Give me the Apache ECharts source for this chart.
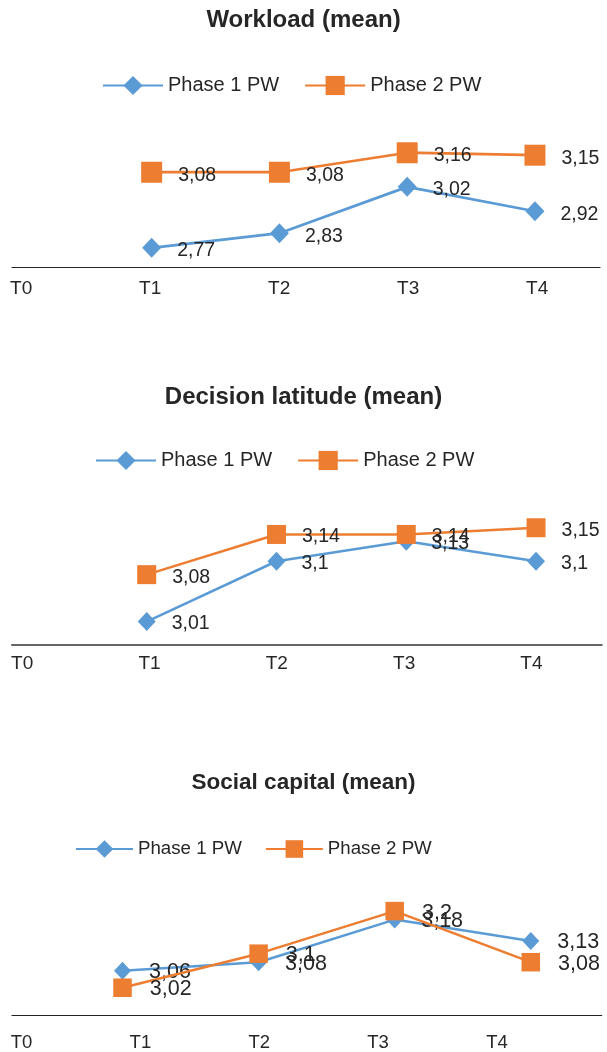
<!DOCTYPE html>
<html>
<head>
<meta charset="utf-8">
<script src="https://cdn.jsdelivr.net/npm/echarts@6/dist/echarts.min.js"></script>
<style>
  html, body { margin: 0; padding: 0; background: #fff; }
  #chart { width: 607px; height: 1052px; }
</style>
</head>
<body>
<div id="chart"></div>
<script>
// Time points shown on every x axis (T0 has no measurement)
const categories = ['T0', 'T1', 'T2', 'T3', 'T4'];
const seriesNames = ['Phase 1 PW', 'Phase 2 PW'];
const panelTitles = ['Workload (mean)', 'Decision latitude (mean)', 'Social capital (mean)'];

// Mean scores per time point
const workloadPhase1 = [null, 2.77, 2.83, 3.02, 2.92];
const workloadPhase2 = [null, 3.08, 3.08, 3.16, 3.15];
const latitudePhase1 = [null, 3.01, 3.10, 3.13, 3.10];
const latitudePhase2 = [null, 3.08, 3.14, 3.14, 3.15];
const socialPhase1 = [null, 3.06, 3.08, 3.18, 3.13];
const socialPhase2 = [null, 3.02, 3.10, 3.20, 3.08];

const panelData = [
  [workloadPhase1, workloadPhase2],
  [latitudePhase1, latitudePhase2],
  [socialPhase1, socialPhase2]
];

// Layout and style of each of the three stacked panels
const panelStyle = [
  {
    titleTop: 8, titleSize: 24,
    legend: { left: 102, top: 75.5, w: 60, h: 24, font: 20, gap: 25 },
    grid: { top: 143, height: 124.3, right: 7 },
    yRange: [2.69, 3.2],
    dataX: [-0.093, 4.509], tickX: [-0.071, 4.487],
    axisColor: '#262626', axisWidth: 1.2, tickMargin: 12, tickFont: 19,
    valueFont: 19.5, valueDist: 16, valueOffset: [0, 3],
    diamond: [19, 20], square: 21, lineWidth: 2.75
  },
  {
    titleTop: 385.5, titleSize: 24,
    legend: { left: 95, top: 450.5, w: 60, h: 24, font: 20, gap: 25 },
    grid: { top: 511, height: 134, right: 5.3 },
    yRange: [2.975, 3.175],
    dataX: [-0.038, 4.506], tickX: [-0.080, 4.552],
    axisColor: '#666666', axisWidth: 2.2, tickMargin: 9, tickFont: 19,
    valueFont: 19.5, valueDist: 16, valueOffset: [0, 2.5],
    diamond: [18, 19], square: 19, lineWidth: 2.5
  },
  {
    titleTop: 771.5, titleSize: 22.5,
    legend: { left: 75, top: 839.5, w: 57, h: 22, font: 18.7, gap: 23 },
    grid: { top: 889.8, height: 127.9, right: 5.3 },
    yRange: [2.956, 3.25],
    dataX: [0.188, 4.521], tickX: [-0.080, 4.881],
    axisColor: '#222222', axisWidth: 1.2, tickMargin: 18, tickFont: 18.5,
    valueFont: 21.5, valueDist: 18, valueOffset: [0, 1.5],
    diamond: [17, 18], square: 18.5, lineWidth: 2.5
  }
];

const colors = ['#5B9BD5', '#ED7D31'];
const textColor = '#262626';
const fontFamily = '"Liberation Sans", Arial, Helvetica, sans-serif';

const fmt = v => String(v).replace('.', ',');

const option = {
  animation: false,
  backgroundColor: '#ffffff',
  textStyle: { fontFamily: fontFamily, color: textColor },
  title: [], legend: [], grid: [], xAxis: [], yAxis: [], series: []
};

panelStyle.forEach((p, k) => {
  option.title.push({
    text: panelTitles[k],
    left: 'center',
    top: p.titleTop,
    padding: 0,
    textStyle: {
      fontFamily: fontFamily, fontWeight: 'bold',
      fontSize: p.titleSize, lineHeight: p.titleSize, color: textColor
    }
  });

  option.legend.push({
    left: p.legend.left,
    top: p.legend.top,
    padding: 0,
    itemWidth: p.legend.w,
    itemHeight: p.legend.h,
    itemGap: p.legend.gap,
    data: seriesNames.map(n => n + '\u200b'.repeat(k)),
    formatter: n => n.replace(/\u200b/g, ''),
    textStyle: { fontFamily: fontFamily, fontSize: p.legend.font, color: textColor, padding: [0, 0, 0, 0] }
  });

  option.grid.push({ left: 12, right: p.grid.right, top: p.grid.top, height: p.grid.height, containLabel: false });

  // Hidden axis that positions the markers
  option.xAxis.push({
    type: 'value', gridIndex: k, position: 'top',
    min: p.dataX[0], max: p.dataX[1], show: false
  });
  // Visible axis carrying the time point labels
  option.xAxis.push({
    type: 'value', gridIndex: k, position: 'bottom',
    min: p.tickX[0], max: p.tickX[1],
    axisLine: { show: true, lineStyle: { color: p.axisColor, width: p.axisWidth } },
    axisTick: { show: false },
    splitLine: { show: false },
    axisLabel: {
      show: true,
      customValues: categories.map((c, i) => i),
      formatter: v => categories[Math.round(v)] || '',
      margin: p.tickMargin,
      fontSize: p.tickFont, fontFamily: fontFamily, color: textColor
    }
  });
  option.yAxis.push({
    type: 'value', gridIndex: k, min: p.yRange[0], max: p.yRange[1], show: false
  });

  panelData[k].forEach((values, s) => {
    option.series.push({
      type: 'line',
      name: seriesNames[s] + '\u200b'.repeat(k),
      xAxisIndex: 2 * k,
      yAxisIndex: k,
      data: values.map((v, i) => [i, v]),
      symbol: s === 0 ? 'diamond' : 'rect',
      symbolSize: s === 0 ? p.diamond : p.square,
      showSymbol: true,
      color: colors[s],
      lineStyle: { color: colors[s], width: p.lineWidth },
      itemStyle: { color: colors[s] },
      z: 2 + s,
      label: {
        show: true,
        position: 'right',
        distance: p.valueDist,
        offset: p.valueOffset,
        formatter: d => fmt(d.value[1]),
        fontSize: p.valueFont,
        fontFamily: fontFamily,
        color: textColor
      },
      emphasis: { disabled: true }
    });
  });
});

const chart = echarts.init(document.getElementById('chart'), null, { renderer: 'canvas' });
chart.setOption(option);
</script>
</body>
</html>
